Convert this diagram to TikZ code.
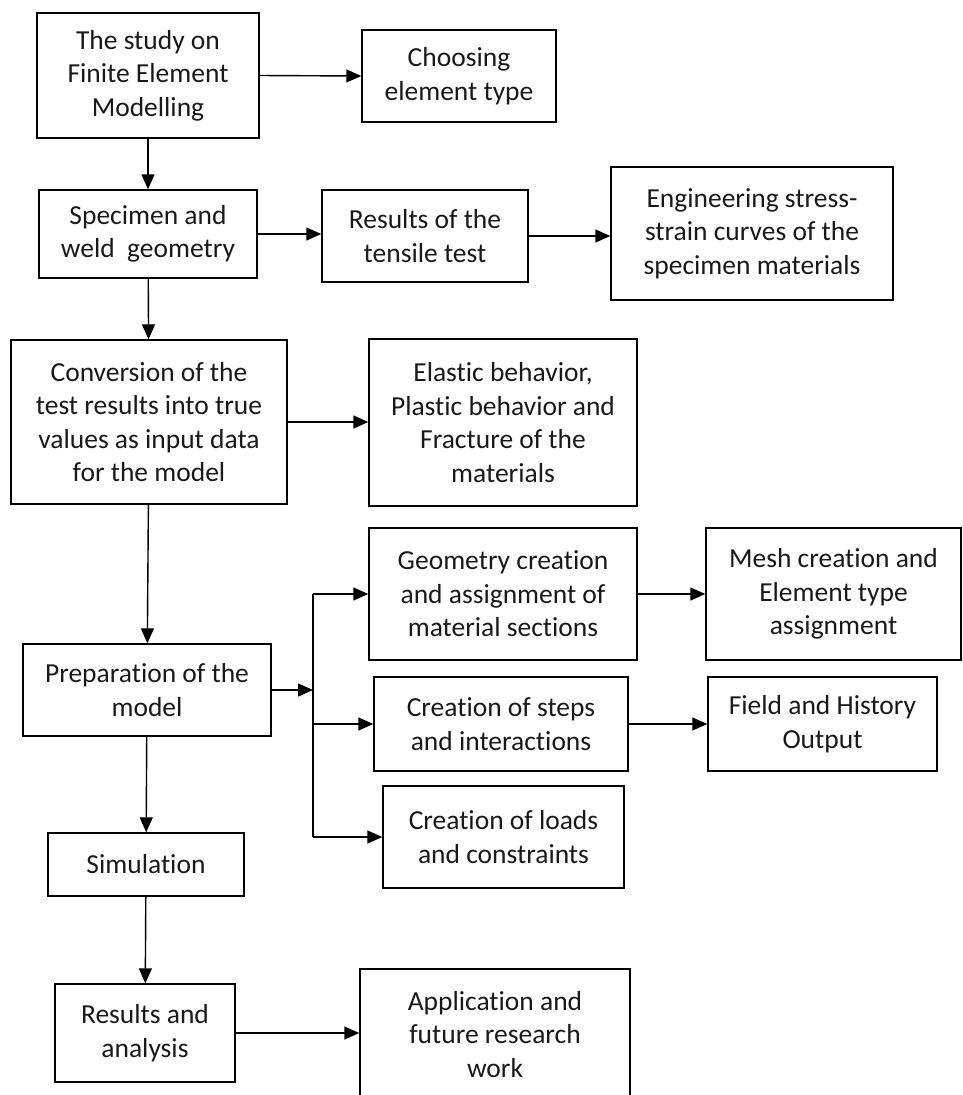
\documentclass[tikz,border=0pt]{standalone}
\usepackage{fontspec}
\setmainfont{Carlito}[Ligatures=NoCommon]
\usetikzlibrary{arrows.meta,positioning}
\definecolor{mytext}{RGB}{25,25,25}

\begin{document}
\begin{tikzpicture}[x=1pt,y=-1pt,line width=1.4pt,
  blk/.style={draw,rectangle,inner sep=0pt,align=center,text=mytext,
    font=\fontsize{27.5}{33.5}\selectfont},
  ar/.style={-{Triangle[length=15pt,width=13pt]}}]

  \clip (0,0) rectangle (963,1095);

  % left column
  \node[blk,minimum width=222pt,minimum height=125pt] (study) at (148,75.5) {The study on\\Finite Element\\Modelling};
  \node[blk,minimum width=218pt,minimum height=88pt] (spec) at (148,234) {Specimen and\\weld\ \ geometry};
  \node[blk,minimum width=276pt,minimum height=164pt] (convert) at (149,422) {Conversion of the\\test results into true\\values as input data\\for the model};
  \node[blk,minimum width=248pt,minimum height=92pt] (prep) at (147,690) {Preparation of the\\model};
  \node[blk,minimum width=196pt,minimum height=63pt] (sim) at (146,864.5) {Simulation};
  \node[blk,minimum width=180pt,minimum height=98pt] (results) at (145,1033) {Results and\\analysis};

  % middle column
  \node[blk,minimum width=194pt,minimum height=92pt] (choose) at (459,76) {Choosing\\element type};
  \node[blk,minimum width=206pt,minimum height=92pt] (tensile) at (425,236) {Results of the\\tensile test};
  \node[blk,minimum width=268pt,minimum height=167pt] (elastic) at (503,422.5) {Elastic behavior,\\Plastic behavior and\\Fracture of the\\materials};
  \node[blk,minimum width=268pt,minimum height=132pt] (geom) at (503,594) {Geometry creation\\and assignment of\\material sections};
  \node[blk,minimum width=254pt,minimum height=94pt] (steps) at (501,724) {Creation of steps\\and interactions};
  \node[blk,minimum width=241pt,minimum height=102pt] (loads) at (503.5,837) {Creation of loads\\and constraints};
  \node[blk,minimum width=270pt,minimum height=131pt] (app) at (495,1034.5) {Application and\\future research\\work};

  % right column
  \node[blk,minimum width=282pt,minimum height=133pt] (engcurve) at (752,233.5) {Engineering stress-\\strain curves of the\\specimen materials};
  \node[blk,minimum width=255pt,minimum height=132pt] (mesh) at (833.5,594) {Mesh creation and\\Element type\\assignment};
  \node[blk,minimum width=229pt,minimum height=94pt] (field) at (822.5,724) {Field and History\\Output};

  \coordinate (fork) at (313,690);

  % main chain
  \draw[ar] (study) -- (spec);
  \draw[ar] (spec) -- (convert);
  \draw[ar] (convert) -- (prep);
  \draw[ar] (prep) -- (sim);
  \draw[ar] (sim) -- (results);

  % side branches
  \draw[ar] (study.east) -- (choose.west);
  \draw[ar] (spec.east) -- (spec.east -| tensile.west);
  \draw[ar] (tensile.east) -- (tensile.east -| engcurve.west);
  \draw[ar] (convert.east) -- (convert.east -| elastic.west);
  \draw[ar] (results.east) -- (results.east -| app.west);

  % model preparation fork
  \draw[ar] (prep.east) -- (fork);
  \draw (fork |- geom.west) -- (fork |- loads.west);
  \draw[ar] (fork |- geom.west) -- (geom.west);
  \draw[ar] (fork |- steps.west) -- (steps.west);
  \draw[ar] (fork |- loads.west) -- (loads.west);
  \draw[ar] (geom.east) -- (geom.east -| mesh.west);
  \draw[ar] (steps.east) -- (steps.east -| field.west);

\end{tikzpicture}
\end{document}
